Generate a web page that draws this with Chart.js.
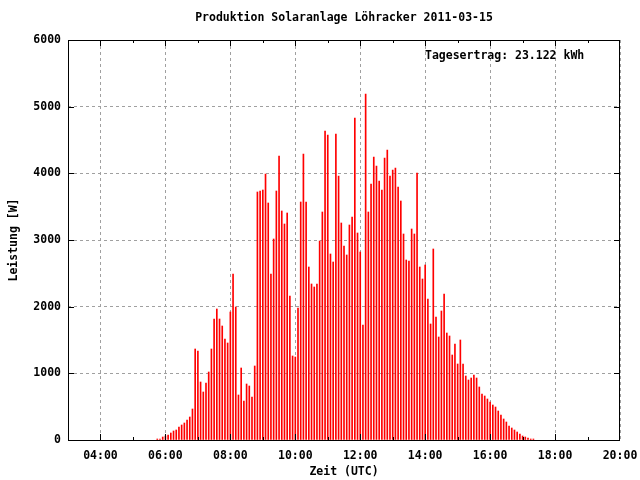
<!DOCTYPE html>
<html>
<head>
<meta charset="utf-8">
<script src="https://cdn.jsdelivr.net/npm/chart.js@4/dist/chart.umd.min.js"></script>
<style>
  html, body { margin: 0; padding: 0; background: #fff; }
  #chartcanvas { display: block; }
</style>
</head>
<body>
<canvas id="chartcanvas" width="640" height="480"></canvas>
<script>
// 5 minute samples, first one at 05:45 UTC
const firstSample = 5 * 60 + 45; // minutes after midnight
const sampleStep = 5;

// Leistung [W]
const power = [
  15, 15, 45, 60, 75, 105, 135, 150, 195, 225, 255, 300, 345, 465,
  1365, 1335, 870, 720, 855, 1020, 1365, 1815, 1965, 1815, 1710, 1515, 1455,
  1920, 2490, 1995, 675, 1080, 585, 840, 810, 645, 1110,
  3720, 3735, 3750, 3990, 3555, 2490, 3015, 3735, 4260, 3435, 3240, 3405, 2160, 1260, 1245, 1980, 3570, 4290,
  3570, 2595, 2340, 2295, 2340, 2985, 3420, 4635, 4575, 2790, 2670, 4590, 3960, 3255, 2910, 2775, 3225, 3345,
  4830, 3105, 2820, 1725, 5190, 3420, 3840, 4245, 4110, 3885,
  3750, 4230, 4350, 3960, 4050, 4080, 3795, 3585, 3090, 2700, 2685, 3165, 3090, 4005, 2595, 2415, 2625, 2115,
  1740, 2865, 1845, 1545, 1935, 2190, 1605, 1560, 1275, 1440,
  1140, 1500, 1140, 960, 900, 930, 975, 930, 795, 690, 660, 615, 570, 525, 495, 435, 375, 315,
  270, 210, 180, 150, 120, 90, 60, 45, 30, 15, 15,
];

const xTickLabels = ["04:00", "06:00", "08:00", "10:00", "12:00", "14:00", "16:00", "18:00", "20:00"];
const yTickValues = [0, 1000, 2000, 3000, 4000, 5000, 6000];
const chartTitle = "Produktion Solaranlage Löhracker 2011-03-15";
const yieldLabel = "Tagesertrag: 23.122 kWh";

const toMinutes = (s) => {
  const [h, m] = s.split(":").map(Number);
  return h * 60 + m;
};
const fmtTime = (v) => {
  const h = Math.floor(v / 60);
  const m = v % 60;
  return String(h).padStart(2, "0") + ":" + String(m).padStart(2, "0");
};

const font = { family: "'DejaVu Sans Mono', monospace", size: 11.5, weight: "bold", lineHeight: 1.2 };
const cssFont = "bold 11.5px 'DejaVu Sans Mono', monospace";

// ticks inside the frame, frame, title and yield label, gnuplot style
const frameAndTicks = {
  id: "frameAndTicks",
  afterDatasetsDraw(chart) {
    const { ctx, chartArea: a, scales: { x, y } } = chart;
    ctx.save();
    ctx.strokeStyle = "#000";
    ctx.lineWidth = 1;
    ctx.beginPath();
    for (let m = 240; m < 1200; m += 60) {
      const px = Math.round(x.getPixelForValue(m)) + 0.5;
      const len = m % 120 === 0 ? 6 : 3;
      ctx.moveTo(px, a.bottom); ctx.lineTo(px, a.bottom - len);
      ctx.moveTo(px, a.top); ctx.lineTo(px, a.top + len);
    }
    yTickValues.forEach((v) => {
      const py = Math.round(y.getPixelForValue(v)) + 0.5;
      ctx.moveTo(a.left, py); ctx.lineTo(a.left + 6, py);
      ctx.moveTo(a.right, py); ctx.lineTo(a.right - 6, py);
    });
    ctx.stroke();
    ctx.strokeRect(a.left + 0.5, a.top + 0.5, a.right - a.left - 1, a.bottom - a.top);

    ctx.fillStyle = "#000";
    ctx.font = cssFont;
    ctx.textBaseline = "middle";
    ctx.textAlign = "center";
    ctx.fillText(chartTitle, (a.left + a.right) / 2, 18);
    ctx.textAlign = "left";
    ctx.fillText(yieldLabel, 425, 56);
    ctx.restore();
  },
};

const ctx = document.getElementById("chartcanvas");

const config = {
  type: "bar",
  data: {
    datasets: [
      {
        label: "Leistung",
        data: power.map((p, i) => ({ x: firstSample + i * sampleStep, y: p })),
        backgroundColor: "#ff0000",
        borderWidth: 0,
        barThickness: 1,
      },
    ],
  },
  options: {
    responsive: false,
    animation: false,
    devicePixelRatio: 1,
    layout: { padding: { left: 0, right: 20, top: 40, bottom: 0 } },
    plugins: {
      legend: { display: false },
      tooltip: { enabled: false },
      title: { display: false },
    },
    scales: {
      x: {
        type: "linear",
        min: 180,
        max: 1200,
        offset: false,
        afterBuildTicks: (s) => { s.ticks = xTickLabels.map((t) => ({ value: toMinutes(t) })); },
        afterFit: (s) => {
          s.height = 40;
          s.paddingLeft = 0;
          s.paddingRight = 0;
        },
        grid: { color: "#a0a0a0", lineWidth: 1, drawTicks: false, offset: false },
        border: { display: false, dash: [3, 3] },
        ticks: {
          color: "#000",
          font: font,
          padding: 9,
          maxRotation: 0,
          autoSkip: false,
          callback: (v) => fmtTime(v),
        },
        title: {
          display: true,
          text: "Zeit (UTC)",
          color: "#000",
          font: font,
          padding: { top: 0, bottom: 1 },
        },
      },
      y: {
        min: 0,
        max: 6000,
        afterBuildTicks: (s) => { s.ticks = yTickValues.map((v) => ({ value: v })); },
        afterFit: (s) => {
          s.width = 68;
          s.paddingTop = 0;
          s.paddingBottom = 0;
        },
        grid: { color: "#a0a0a0", lineWidth: 1, drawTicks: false },
        border: { display: false, dash: [3, 3] },
        ticks: {
          color: "#000",
          font: font,
          padding: 7,
          callback: (v) => String(v),
        },
        title: {
          display: true,
          text: "Leistung [W]",
          color: "#000",
          font: font,
          padding: { top: 7, bottom: 0 },
        },
      },
    },
  },
  plugins: [frameAndTicks],
};

const chart = new Chart(ctx, config);
</script>
</body>
</html>
